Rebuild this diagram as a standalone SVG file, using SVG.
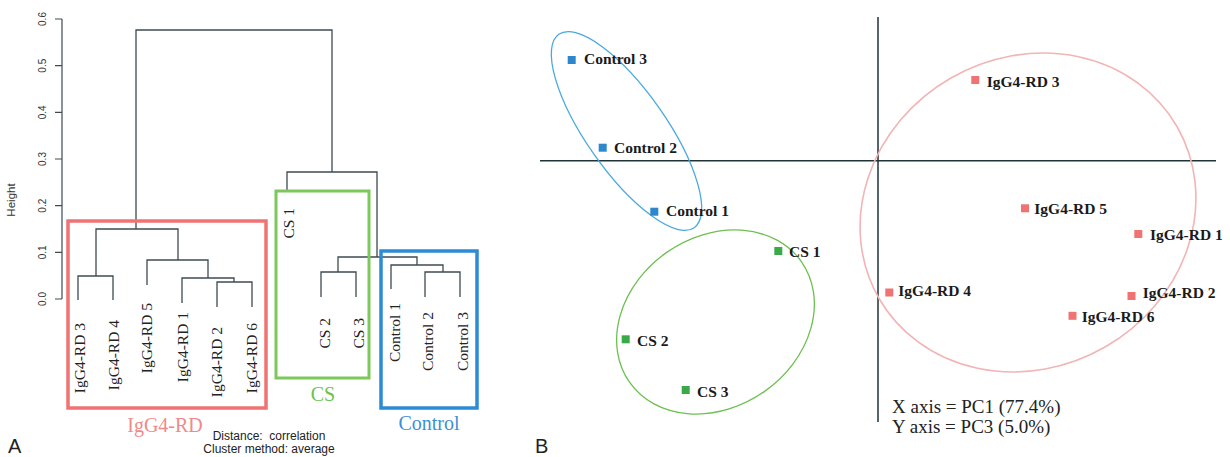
<svg xmlns="http://www.w3.org/2000/svg" width="1230" height="457" viewBox="0 0 1230 457">
<style>
.bg{fill:#ffffff}
.den{fill:none;stroke:#3f4b50;stroke-width:1.3}
.axis{fill:none;stroke:#3f4b50;stroke-width:1.2}
.tick{font-family:"Liberation Sans",Arial,sans-serif;font-size:10px;fill:#333;text-anchor:middle}
.leaf{font-family:"Liberation Serif","Times New Roman",serif;font-size:15.5px;fill:#222;text-anchor:end}
.grp{font-family:"Liberation Serif","Times New Roman",serif;font-size:20px;text-anchor:middle}
.note{font-family:"Liberation Sans",Arial,sans-serif;font-size:12px;fill:#222;text-anchor:middle}
.panel{font-family:"Liberation Sans",Arial,sans-serif;font-size:20px;fill:#222}
.pl{font-family:"Liberation Serif","Times New Roman",serif;font-size:15.5px;font-weight:bold;fill:#1a1a1a}
.cap{font-family:"Liberation Serif","Times New Roman",serif;font-size:19px;fill:#222}
.pcaaxis{fill:none;stroke:#1f3338;stroke-width:1.5}
.sqB{fill:#2e86cc}
.sqG{fill:#3aaa48}
.sqR{fill:#f07272}
</style>
<rect class="bg" x="0" y="0" width="1230" height="457"/>

<!-- Panel A: dendrogram -->
<g id="axisA">
  <path class="axis" d="M62,19 V299 M55,19 H62 M55,65.7 H62 M55,112.3 H62 M55,159 H62 M55,205.7 H62 M55,252.3 H62 M55,299 H62"/>
  <text class="tick" transform="translate(46,19) rotate(-90)">0.6</text>
  <text class="tick" transform="translate(46,65.7) rotate(-90)">0.5</text>
  <text class="tick" transform="translate(46,112.3) rotate(-90)">0.4</text>
  <text class="tick" transform="translate(46,159) rotate(-90)">0.3</text>
  <text class="tick" transform="translate(46,205.7) rotate(-90)">0.2</text>
  <text class="tick" transform="translate(46,252.3) rotate(-90)">0.1</text>
  <text class="tick" transform="translate(46,299) rotate(-90)">0.0</text>
  <text class="tick" style="font-size:11.5px" transform="translate(15,200) rotate(-90)">Height</text>
</g>

<g id="connectors">
  <path class="den" d="
    M136,229 V30 H332 V172
    M287,192 V172 H377 V257
    M96,276 V229 H178 V260
    M78,300 V276 H113 V300
    M147,285 V260 H208 V278
    M182,303 V278 H234 V282
    M217,307 V282 H252 V307
    M338,272 V257 H417 V265
    M321,297 V272 H356 V297
    M391,289 V265 H443 V272
    M425,297 V272 H460 V297"/>
</g>

<g id="box-igg4">
  <rect x="68" y="221" width="198" height="187" fill="none" stroke="#f07373" stroke-width="3.5"/>
  <text class="grp" x="165" y="432" fill="#f08a8a">IgG4-RD</text>
</g>
<g id="box-cs">
  <rect x="276" y="191" width="93" height="187" fill="none" stroke="#7cc85a" stroke-width="3"/>
  <text class="grp" x="323" y="401" fill="#6cc24a">CS</text>
</g>
<g id="box-control">
  <rect x="381" y="251" width="96" height="157" fill="none" stroke="#2d8bd6" stroke-width="3.5"/>
  <text class="grp" x="429" y="430" fill="#3d8fd8">Control</text>
</g>

<g id="leaf-igg4-3"><text class="leaf" transform="translate(84.5,323) rotate(-90)">IgG4-RD 3</text></g>
<g id="leaf-igg4-4"><text class="leaf" transform="translate(119,320) rotate(-90)">IgG4-RD 4</text></g>
<g id="leaf-igg4-5"><text class="leaf" transform="translate(152,303) rotate(-90)">IgG4-RD 5</text></g>
<g id="leaf-igg4-1"><text class="leaf" transform="translate(188,312) rotate(-90)">IgG4-RD 1</text></g>
<g id="leaf-igg4-2"><text class="leaf" transform="translate(222,327) rotate(-90)">IgG4-RD 2</text></g>
<g id="leaf-igg4-6"><text class="leaf" transform="translate(257,323) rotate(-90)">IgG4-RD 6</text></g>
<g id="leaf-cs-1"><text class="leaf" transform="translate(294,208) rotate(-90)">CS 1</text></g>
<g id="leaf-cs-2"><text class="leaf" transform="translate(330,318) rotate(-90)">CS 2</text></g>
<g id="leaf-cs-3"><text class="leaf" transform="translate(364,318) rotate(-90)">CS 3</text></g>
<g id="leaf-control-1"><text class="leaf" transform="translate(400,303) rotate(-90)">Control 1</text></g>
<g id="leaf-control-2"><text class="leaf" transform="translate(433,312) rotate(-90)">Control 2</text></g>
<g id="leaf-control-3"><text class="leaf" transform="translate(468,312) rotate(-90)">Control 3</text></g>

<g id="notesA">
  <text class="note" x="269" y="440" xml:space="preserve">Distance:  correlation</text>
  <text class="note" x="269" y="453">Cluster method: average</text>
  <text class="panel" x="8" y="453">A</text>
</g>

<!-- Panel B: PCA -->
<g id="pca-axes">
  <path class="pcaaxis" d="M540,160.7 H1216 M878,17 V422"/>
</g>

<g id="ellipses">
  <ellipse cx="626.5" cy="131" rx="118" ry="40" transform="rotate(55 626.5 131)" fill="none" stroke="#4aa8e0" stroke-width="1.3"/>
  <ellipse cx="715.5" cy="322" rx="105" ry="85" transform="rotate(-35 715.5 322)" fill="none" stroke="#6cc050" stroke-width="1.3"/>
  <ellipse cx="1028" cy="212.5" rx="172" ry="155" transform="rotate(-30 1028 212.5)" fill="none" stroke="#f2b4b4" stroke-width="1.6"/>
</g>

<g id="pt-control-3"><rect class="sqB" x="567.7" y="56" width="8" height="8"/><text class="pl" x="584" y="64">Control 3</text></g>
<g id="pt-control-2"><rect class="sqB" x="598.7" y="143.7" width="8" height="8"/><text class="pl" x="614" y="153">Control 2</text></g>
<g id="pt-control-1"><rect class="sqB" x="650.3" y="207.7" width="8" height="8"/><text class="pl" x="666" y="216">Control 1</text></g>
<g id="pt-cs-1"><rect class="sqG" x="774.3" y="247" width="8" height="8"/><text class="pl" x="789" y="257">CS 1</text></g>
<g id="pt-cs-2"><rect class="sqG" x="621.7" y="335.3" width="8" height="8"/><text class="pl" x="637" y="345.5">CS 2</text></g>
<g id="pt-cs-3"><rect class="sqG" x="681.7" y="386" width="8" height="8"/><text class="pl" x="697" y="396.5">CS 3</text></g>
<g id="pt-igg4-3"><rect class="sqR" x="971.3" y="76" width="8" height="8"/><text class="pl" x="986.7" y="87">IgG4-RD 3</text></g>
<g id="pt-igg4-5"><rect class="sqR" x="1021" y="204.3" width="8" height="8"/><text class="pl" x="1034.3" y="214">IgG4-RD 5</text></g>
<g id="pt-igg4-1"><rect class="sqR" x="1134.3" y="230" width="8" height="8"/><text class="pl" x="1150" y="240">IgG4-RD 1</text></g>
<g id="pt-igg4-4"><rect class="sqR" x="885.3" y="288.5" width="8" height="8"/><text class="pl" x="898.3" y="296">IgG4-RD 4</text></g>
<g id="pt-igg4-2"><rect class="sqR" x="1127.5" y="292" width="8" height="8"/><text class="pl" x="1142.7" y="297.5">IgG4-RD 2</text></g>
<g id="pt-igg4-6"><rect class="sqR" x="1068.5" y="311.8" width="8" height="8"/><text class="pl" x="1081.7" y="322">IgG4-RD 6</text></g>

<g id="notesB">
  <text class="cap" x="892" y="413">X axis = PC1 (77.4%)</text>
  <text class="cap" x="892" y="433">Y axis = PC3 (5.0%)</text>
  <text class="panel" x="535" y="453">B</text>
</g>
</svg>
